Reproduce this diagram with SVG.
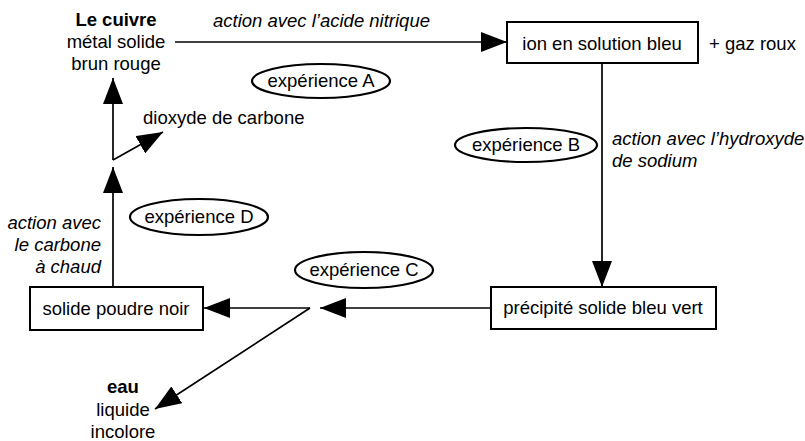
<svg xmlns="http://www.w3.org/2000/svg" width="805" height="441" viewBox="0 0 805 441">
<style>
text{font-family:"Liberation Sans",Arial,sans-serif;font-size:18.5px;fill:#000}
.i{font-style:italic}
.b{font-weight:bold}
.m{text-anchor:middle}
.e{text-anchor:end}
.box{fill:#fff;stroke:#000;stroke-width:2}
.ell{fill:#fff;stroke:#000;stroke-width:2.2}
.ln{fill:none;stroke:#000;stroke-width:1.7}
</style>
<defs>
<marker id="ah" markerUnits="userSpaceOnUse" markerWidth="27" markerHeight="20" refX="26" refY="10" orient="auto">
<path d="M0,0 L26,10 L0,20 z" fill="#000"/>
</marker>
</defs>
<rect width="805" height="441" fill="#fff"/>
<g id="connectors">
<line class="ln" x1="175" y1="42" x2="507" y2="42" marker-end="url(#ah)"/>
<line class="ln" x1="602" y1="63" x2="602" y2="287" marker-end="url(#ah)"/>
<line class="ln" x1="491" y1="308" x2="320" y2="308" marker-end="url(#ah)"/>
<line class="ln" x1="310" y1="308" x2="204" y2="308" marker-end="url(#ah)"/>
<line class="ln" x1="310" y1="308" x2="155" y2="409" marker-end="url(#ah)"/>
<line class="ln" x1="113" y1="287" x2="113" y2="167" marker-end="url(#ah)"/>
<line class="ln" x1="113" y1="160" x2="113" y2="78" marker-end="url(#ah)"/>
<line class="ln" x1="113" y1="160" x2="163" y2="132" marker-end="url(#ah)"/>
<text class="i" x="213" y="27">action avec l’acide nitrique</text>
<text class="i" x="612" y="145">action avec l’hydroxyde</text>
<text class="i" x="612" y="167">de sodium</text>
<text class="i e" x="101" y="229">action avec</text>
<text class="i e" x="101" y="251">le carbone</text>
<text class="i e" x="101" y="273">à chaud</text>
</g>
<g id="cuivre">
<text class="b m" x="116" y="26">Le cuivre</text>
<text class="m" x="116" y="48">métal solide</text>
<text class="m" x="116" y="70">brun rouge</text>
</g>
<g id="ion">
<rect class="box" x="507" y="22" width="191" height="41"/>
<text class="m" x="602" y="50">ion en solution bleu</text>
</g>
<g id="gaz">
<text x="709" y="50">+ gaz roux</text>
</g>
<g id="precipite">
<rect class="box" x="491" y="287" width="225" height="42"/>
<text class="m" x="603" y="314">précipité solide bleu vert</text>
</g>
<g id="poudre">
<rect class="box" x="30" y="287" width="173" height="43"/>
<text class="m" x="116" y="315">solide poudre noir</text>
</g>
<g id="dioxyde">
<text x="143" y="124">dioxyde de carbone</text>
</g>
<g id="eau">
<text class="b m" x="123" y="393">eau</text>
<text class="m" x="123" y="416">liquide</text>
<text class="m" x="123" y="438">incolore</text>
</g>
<g id="expA">
<ellipse class="ell" cx="321" cy="81" rx="69" ry="17"/>
<text class="m" x="321" y="87">expérience A</text>
</g>
<g id="expB">
<ellipse class="ell" cx="526" cy="145" rx="71" ry="17"/>
<text class="m" x="526" y="151">expérience B</text>
</g>
<g id="expC">
<ellipse class="ell" cx="364" cy="270" rx="69" ry="18"/>
<text class="m" x="364" y="276">expérience C</text>
</g>
<g id="expD">
<ellipse class="ell" cx="199" cy="217" rx="69" ry="18"/>
<text class="m" x="199" y="223">expérience D</text>
</g>
</svg>
